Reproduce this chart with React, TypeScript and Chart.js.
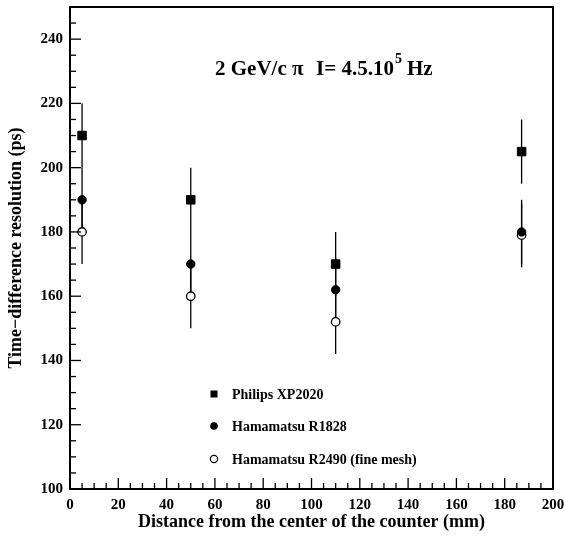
import React, { useEffect, useRef } from "react";
import { Chart, registerables } from "chart.js";

Chart.register(...registerables);

// ---- data ----
const distanceMm = [5, 50, 110, 187];
const philipsXP2020 = [210, 190, 170, 205];
const hamamatsuR1828 = [190, 170, 162, 180];
const hamamatsuR2490 = [180, 160, 152, 179];
const philipsErr = [10, 10, 10, 10];
const r1828Err = [10, 10, 10, 10];
const r2490Err = [10, 10, 10, 10];
const seriesNames = ["Philips XP2020", "Hamamatsu R1828", "Hamamatsu R2490 (fine mesh)"];
const xTickValues = [0, 20, 40, 60, 80, 100, 120, 140, 160, 180, 200];
const yTickValues = [100, 120, 140, 160, 180, 200, 220, 240];
const xRange = [0, 200];
const yRange = [100, 250];
const minorStep = 5;
const majorStep = 20;

const FONT = "'Liberation Serif', 'Times New Roman', Times, serif";

const errorBarPlugin = {
  id: "errorBars",
  beforeDatasetsDraw(chart: any) {
    const ctx = chart.ctx;
    const ys = chart.scales.y;
    ctx.save();
    ctx.strokeStyle = "#000";
    ctx.lineWidth = 1.3;
    chart.data.datasets.forEach((ds: any, i: number) => {
      const meta = chart.getDatasetMeta(i);
      ds.data.forEach((d: any, j: number) => {
        const el = meta.data[j];
        const e = ds.errors[j];
        ctx.beginPath();
        ctx.moveTo(el.x, ys.getPixelForValue(d.y - e));
        ctx.lineTo(el.x, ys.getPixelForValue(d.y + e));
        ctx.stroke();
      });
    });
    ctx.restore();
  },
};

const frameTicksPlugin = {
  id: "frameTicks",
  afterDatasetsDraw(chart: any) {
    const { ctx, chartArea: a } = chart;
    const xs = chart.scales.x;
    const ys = chart.scales.y;
    ctx.save();
    ctx.strokeStyle = "#000";
    ctx.lineWidth = 1.3;
    for (let v = xRange[0]; v <= xRange[1]; v += minorStep) {
      const px = xs.getPixelForValue(v);
      const len = v % majorStep === 0 ? 11 : 6;
      ctx.beginPath();
      ctx.moveTo(px, a.bottom);
      ctx.lineTo(px, a.bottom - len);
      ctx.stroke();
    }
    for (let v = yRange[0]; v <= yRange[1]; v += minorStep) {
      const py = ys.getPixelForValue(v);
      const len = v % majorStep === 0 ? 11 : 6;
      ctx.beginPath();
      ctx.moveTo(a.left, py);
      ctx.lineTo(a.left + len, py);
      ctx.stroke();
    }
    ctx.lineWidth = 2;
    ctx.strokeRect(a.left, a.top, a.right - a.left, a.bottom - a.top);
    ctx.restore();
  },
};

const annotationPlugin = {
  id: "annotation",
  afterDraw(chart: any) {
    const ctx = chart.ctx;
    ctx.save();
    ctx.fillStyle = "#000";
    ctx.textBaseline = "alphabetic";
    ctx.textAlign = "left";
    ctx.font = `bold 21px ${FONT}`;
    ctx.fillText("2 GeV/c", 215, 75);
    ctx.fillText("\u03c0", 292, 75);
    const main = "I= 4.5.10";
    ctx.fillText(main, 316, 75);
    const w = ctx.measureText(main).width;
    ctx.font = `bold 14px ${FONT}`;
    ctx.fillText("5", 316 + w + 1, 63);
    ctx.font = `bold 21px ${FONT}`;
    ctx.fillText("Hz", 316 + w + 13, 75);

    // legend
    const rows = [394, 426, 459];
    const mx = 214;
    ctx.font = `bold 14px ${FONT}`;
    ctx.textBaseline = "middle";
    rows.forEach((ry, i) => {
      ctx.fillStyle = "#000";
      ctx.strokeStyle = "#000";
      ctx.lineWidth = 1.2;
      if (i === 0) {
        ctx.fillRect(mx - 3.5, ry - 3.5, 7, 7);
      } else if (i === 1) {
        ctx.beginPath();
        ctx.arc(mx, ry, 3.8, 0, Math.PI * 2);
        ctx.fill();
      } else {
        ctx.beginPath();
        ctx.arc(mx, ry, 3.6, 0, Math.PI * 2);
        ctx.fillStyle = "#fff";
        ctx.fill();
        ctx.stroke();
      }
      ctx.fillStyle = "#000";
      ctx.fillText(seriesNames[i], 232, ry + 1);
    });
    ctx.restore();
  },
};

export default function App() {
  const ref = useRef<HTMLCanvasElement | null>(null);

  useEffect(() => {
    if (!ref.current) return;
    const mk = (ys: number[]) => distanceMm.map((x, i) => ({ x, y: ys[i] }));
    const chart = new Chart(ref.current, {
      type: "scatter",
      data: {
        datasets: [
          {
            label: seriesNames[0],
            data: mk(philipsXP2020),
            errors: philipsErr,
            pointStyle: "rect",
            pointRadius: 6,
            backgroundColor: "#000",
            borderColor: "#000",
            borderWidth: 1,
          } as any,
          {
            label: seriesNames[1],
            data: mk(hamamatsuR1828),
            errors: r1828Err,
            pointStyle: "circle",
            pointRadius: 4.2,
            backgroundColor: "#000",
            borderColor: "#000",
            borderWidth: 1,
          } as any,
          {
            label: seriesNames[2],
            data: mk(hamamatsuR2490),
            errors: r2490Err,
            pointStyle: "circle",
            pointRadius: 4.2,
            backgroundColor: "#fff",
            borderColor: "#000",
            borderWidth: 1.3,
          } as any,
        ],
      },
      options: {
        animation: false,
        responsive: false,
        layout: { padding: { top: 5, right: 11, left: 0, bottom: 0 } },
        plugins: { legend: { display: false }, tooltip: { enabled: false } },
        scales: {
          x: {
            type: "linear",
            min: xRange[0],
            max: xRange[1],
            afterBuildTicks: (s: any) => {
              s.ticks = xTickValues.map((v) => ({ value: v }));
            },
            afterFit: (s: any) => {
              s.height = 49;
              s.paddingLeft = 0;
              s.paddingRight = 0;
              s.paddingTop = 0;
              s.paddingBottom = 0;
            },
            grid: { display: false, drawTicks: false },
            border: { display: false },
            ticks: {
              color: "#000",
              padding: 7,
              maxRotation: 0,
              font: { family: FONT, size: 15, weight: "bold" },
            },
            title: {
              display: true,
              text: "Distance from the center of the counter (mm)",
              color: "#000",
              padding: { top: 0, bottom: 5 },
              font: { family: FONT, size: 18, weight: "bold" },
            },
          },
          y: {
            type: "linear",
            min: yRange[0],
            max: yRange[1],
            afterBuildTicks: (s: any) => {
              s.ticks = yTickValues.map((v) => ({ value: v }));
            },
            afterFit: (s: any) => {
              s.width = 70;
              s.paddingLeft = 0;
              s.paddingRight = 0;
              s.paddingTop = 0;
              s.paddingBottom = 0;
            },
            grid: { display: false, drawTicks: false },
            border: { display: false },
            ticks: {
              color: "#000",
              padding: 7,
              font: { family: FONT, size: 15, weight: "bold" },
            },
            title: {
              display: true,
              text: "Time\u2212difference resolution (ps)",
              color: "#000",
              padding: { top: 6, bottom: 0 },
              font: { family: FONT, size: 18, weight: "bold" },
            },
          },
        },
      } as any,
      plugins: [errorBarPlugin, frameTicksPlugin, annotationPlugin],
    });
    return () => chart.destroy();
  }, []);

  return (
    <div style={{ position: "absolute", left: 0, top: 0, width: 564, height: 538, background: "#fff" }}>
      <canvas ref={ref} width={564} height={538} style={{ display: "block" }} />
    </div>
  );
}
